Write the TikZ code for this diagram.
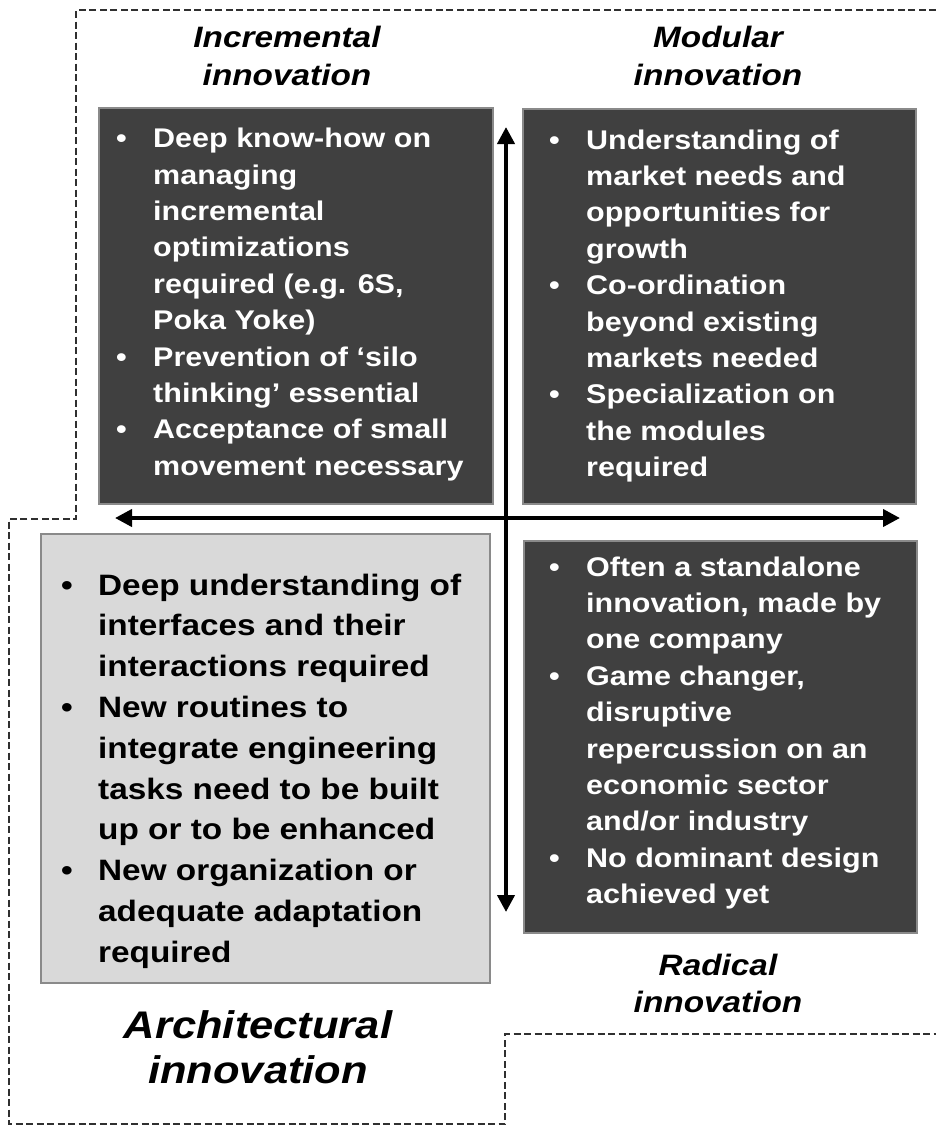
\documentclass[tikz,border=0pt]{standalone}
\usepackage{fontspec}
\setmainfont{Liberation Sans}[FakeStretch=1.13]
\usetikzlibrary{arrows.meta}
\definecolor{boxdark}{HTML}{404040}
\definecolor{boxlight}{HTML}{D9D9D9}
\definecolor{boxedge}{HTML}{8A8A8A}
\definecolor{dashcol}{HTML}{303030}
\begin{document}
\begin{tikzpicture}[x=1pt,y=-1pt,
  darkbox/.style={draw=boxedge, line width=2pt, fill=boxdark, inner sep=0pt, anchor=north west},
  lightbox/.style={draw=boxedge, line width=2pt, fill=boxlight, inner sep=0pt, anchor=north west},
  bodytext/.style={anchor=base west, inner sep=0pt, text=white, font=\bfseries\fontsize{27}{36.4}\selectfont},
  bigtext/.style={anchor=base west, inner sep=0pt, text=black, font=\bfseries\fontsize{29.5}{40.8}\selectfont},
  header/.style={anchor=base, inner sep=0pt, font=\bfseries\itshape\fontsize{29.5}{37.7}\selectfont},
  bigheader/.style={anchor=base, inner sep=0pt, font=\bfseries\itshape\fontsize{38.5}{45}\selectfont},
  dashline/.style={draw=dashcol, line width=2pt, dash pattern=on 7pt off 3.5pt},
  axis/.style={line width=4pt, {Triangle[length=17pt,width=17pt]}-{Triangle[length=17pt,width=17pt]}}
]
\path[use as bounding box] (0,0) rectangle (935,1125);

% dashed outline
\draw[dashline] (936,10) -- (76,10) -- (76,519) -- (9,519) -- (9,1124) -- (505,1124) -- (505,1034) -- (936,1034);

% boxes
\node[darkbox, minimum width=394pt, minimum height=396pt] (tlbox) at (98,107) {};
\node[darkbox, minimum width=393pt, minimum height=395pt] (trbox) at (522,108) {};
\node[darkbox, minimum width=393pt, minimum height=392pt] (brbox) at (523,540) {};
\node[lightbox, minimum width=449pt, minimum height=449pt] (blbox) at (40,533) {};

% axes
\coordinate (hleft) at (115,518);
\coordinate (hright) at (900,518);
\coordinate (vtop) at (506,127);
\coordinate (vbot) at (506,912);
\draw[axis] (hleft) -- (hright);
\draw[axis] (vtop) -- (vbot);

% headers
\node[header] (inchead) at (287,47.3) {\begin{tabular}[t]{@{}c@{}}Incremental\\innovation\end{tabular}};
\node[header] (modhead) at (718,47.3) {\begin{tabular}[t]{@{}c@{}}Modular\\innovation\end{tabular}};
\node[header] (radhead) at (718,975) {\begin{tabular}[t]{@{}c@{}}Radical\\innovation\end{tabular}};
\node[bigheader] (archead) at (258,1038) {\begin{tabular}[t]{@{}c@{}}Architectural\\innovation\end{tabular}};

% box texts
\node[bodytext] (tltext) at (116,147.7) {\begin{tabular}[t]{@{}p{37pt}@{}l@{}}
\textbullet & Deep know-how on\\
 & managing\\
 & incremental\\
 & optimizations\\
 & required (e.g. 6S,\\
 & Poka Yoke)\\
\textbullet & Prevention of ‘silo\\
 & thinking’ essential\\
\textbullet & Acceptance of small\\
 & movement necessary
\end{tabular}};

\node[bodytext] (trtext) at (549,149) {\begin{tabular}[t]{@{}p{37pt}@{}l@{}}
\textbullet & Understanding of\\
 & market needs and\\
 & opportunities for\\
 & growth\\
\textbullet & Co-ordination\\
 & beyond existing\\
 & markets needed\\
\textbullet & Specialization on\\
 & the modules\\
 & required
\end{tabular}};

\node[bodytext] (brtext) at (549,576) {\begin{tabular}[t]{@{}p{37pt}@{}l@{}}
\textbullet & Often a standalone\\
 & innovation, made by\\
 & one company\\
\textbullet & Game changer,\\
 & disruptive\\
 & repercussion on an\\
 & economic sector\\
 & and/or industry\\
\textbullet & No dominant design\\
 & achieved yet
\end{tabular}};

\node[bigtext] (bltext) at (61,595) {\begin{tabular}[t]{@{}p{37pt}@{}l@{}}
\textbullet & Deep understanding of\\
 & interfaces and their\\
 & interactions required\\
\textbullet & New routines to\\
 & integrate engineering\\
 & tasks need to be built\\
 & up or to be enhanced\\
\textbullet & New organization or\\
 & adequate adaptation\\
 & required
\end{tabular}};
\end{tikzpicture}
\end{document}
